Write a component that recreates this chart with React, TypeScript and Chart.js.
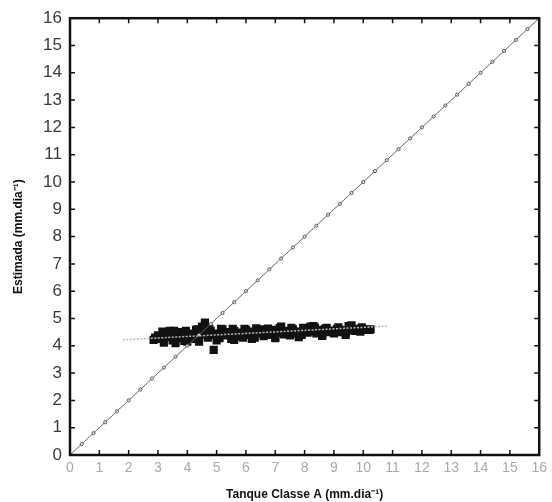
import React, { useEffect, useRef } from "react";
import { Chart, registerables } from "chart.js";

Chart.register(...registerables);

const axisTicks = [0, 1, 2, 3, 4, 5, 6, 7, 8, 9, 10, 11, 12, 13, 14, 15, 16];
const yTickLabels = ["0", "1", "2", "3", "4", "5", "6", "7", "8", "9", "10", "11", "12", "13", "14", "15", "16"];
const xTickLabels = ["0", "1", "2", "3", "4", "5", "6", "7", "8", "9", "10", "11", "12", "13", "14", "15", "16"];

const diagValues = [0, 0.4, 0.8, 1.2, 1.6, 2, 2.4, 2.8, 3.2, 3.6, 4, 4.4, 4.8, 5.2, 5.6, 6, 6.4, 6.8, 7.2, 7.6, 8, 8.4, 8.8, 9.2, 9.6, 10, 10.4, 10.8, 11.2, 11.6, 12, 12.4, 12.8, 13.2, 13.6, 14, 14.4, 14.8, 15.2, 15.6, 16];

const obsX = [2.9, 3.0, 3.1, 3.2, 3.3, 3.4, 3.5, 3.6, 3.7, 3.8, 3.9, 4.0, 4.1, 4.2, 4.3, 4.4, 4.5, 4.6, 4.7, 4.8, 4.9, 5.0, 5.1, 5.2, 5.3, 5.4, 5.5, 5.6, 5.7, 5.8, 5.9, 6.0, 6.1, 6.2, 6.3, 6.4, 6.5, 6.6, 6.7, 6.8, 6.9, 7.0, 7.1, 7.2, 7.3, 7.4, 7.5, 7.6, 7.7, 7.8, 7.9, 8.0, 8.1, 8.2, 8.3, 8.4, 8.5, 8.6, 8.7, 8.8, 8.9, 9.0, 9.1, 9.2, 9.3, 9.4, 9.5, 9.6, 9.7, 9.8, 9.9, 10.0, 10.2, 3.2, 3.6, 4.0, 4.4, 5.0, 5.6, 6.2, 7.0, 7.8, 8.6, 9.4];
const obsY = [4.30, 4.38, 4.25, 4.45, 4.32, 4.55, 4.20, 4.40, 4.28, 4.50, 4.18, 4.35, 4.45, 4.25, 4.58, 4.38, 4.70, 4.85, 4.30, 4.55, 3.85, 4.45, 4.28, 4.60, 4.38, 4.50, 4.25, 4.55, 4.35, 4.48, 4.30, 4.58, 4.40, 4.52, 4.30, 4.45, 4.60, 4.35, 4.50, 4.40, 4.58, 4.32, 4.50, 4.70, 4.42, 4.55, 4.38, 4.60, 4.45, 4.52, 4.40, 4.62, 4.48, 4.70, 4.72, 4.45, 4.58, 4.42, 4.62, 4.50, 4.55, 4.45, 4.62, 4.50, 4.58, 4.48, 4.72, 4.75, 4.55, 4.62, 4.52, 4.60, 4.58, 4.12, 4.10, 4.15, 4.15, 4.20, 4.22, 4.25, 4.28, 4.32, 4.36, 4.40];

const fillX = [2.85, 3.05, 3.25, 3.45, 3.65, 3.85, 4.05, 4.25, 4.45, 4.65, 4.85, 5.05, 5.25, 5.45, 5.65, 5.85, 6.05, 6.25, 6.45, 6.65, 6.85, 7.05, 7.25, 7.45, 7.65, 7.85, 8.05, 8.25, 8.45, 8.65, 8.85, 9.05, 9.25, 9.45, 9.65, 9.85, 10.05, 10.25, 3.15, 3.55, 3.95, 4.35, 4.75, 5.15, 5.55, 5.95, 6.35, 6.75, 7.15, 7.55, 7.95, 8.35, 8.75, 9.15, 9.55, 9.95];
const fillY = [4.22, 4.30, 4.33, 4.36, 4.35, 4.37, 4.38, 4.40, 4.42, 4.44, 4.40, 4.40, 4.42, 4.43, 4.45, 4.44, 4.46, 4.45, 4.47, 4.48, 4.46, 4.48, 4.50, 4.49, 4.50, 4.51, 4.52, 4.53, 4.52, 4.54, 4.55, 4.54, 4.55, 4.57, 4.58, 4.57, 4.58, 4.60, 4.52, 4.55, 4.55, 4.60, 4.62, 4.62, 4.62, 4.62, 4.64, 4.63, 4.65, 4.66, 4.66, 4.67, 4.66, 4.68, 4.68, 4.68];

const regX = [1.8, 10.8];
const regY = [4.22, 4.72];

const FONT = "'Liberation Sans', Arial, sans-serif";

const framePlugin = {
  id: "frame",
  afterDatasetsDraw(chart: any) {
    const { ctx, chartArea: a, scales } = chart;
    ctx.save();
    ctx.strokeStyle = "#111";
    ctx.lineWidth = 1.5;
    const len = 5;
    ctx.beginPath();
    axisTicks.forEach((v) => {
      const px = scales.x.getPixelForValue(v);
      ctx.moveTo(px, a.bottom);
      ctx.lineTo(px, a.bottom - len);
      ctx.moveTo(px, a.top);
      ctx.lineTo(px, a.top + len);
      const py = scales.y.getPixelForValue(v);
      ctx.moveTo(a.left, py);
      ctx.lineTo(a.left + len, py);
      ctx.moveTo(a.right, py);
      ctx.lineTo(a.right - len, py);
    });
    ctx.stroke();
    ctx.lineWidth = 2.5;
    ctx.strokeRect(a.left, a.top, a.right - a.left, a.bottom - a.top);
    ctx.restore();
  },
};

export default function App() {
  const ref = useRef<HTMLCanvasElement>(null);
  useEffect(() => {
    document.body.style.margin = "0";
    const chart = new Chart(ref.current!, {
      type: "scatter",
      data: {
        datasets: [
          {
            label: "Observado",
            order: 2,
            data: obsX.map((x, i) => ({ x, y: obsY[i] })).concat(fillX.map((x, i) => ({ x, y: fillY[i] }))),
            pointStyle: "rect",
            pointRadius: 5.8,
            backgroundColor: "#111",
            borderColor: "#111",
            borderWidth: 0,
            showLine: false,
          },
          {
            label: "Regressão",
            order: 0,
            data: regX.map((x, i) => ({ x, y: regY[i] })),
            showLine: true,
            borderColor: "#b8b8b8",
            borderWidth: 1.5,
            borderDash: [2, 1.5],
            pointRadius: 0,
          },
          {
            label: "1:1",
            order: 1,
            data: diagValues.map((v) => ({ x: v, y: v })),
            showLine: true,
            borderColor: "#666",
            borderWidth: 1,
            pointStyle: "circle",
            pointRadius: 1.6,
            pointBorderColor: "#444",
            pointBackgroundColor: "#ddd",
            pointBorderWidth: 0.8,
          },
        ],
      },
      options: {
        animation: false,
        responsive: false,
        layout: { padding: { top: 17, right: 6, left: 0, bottom: 0 } },
        plugins: { legend: { display: false }, tooltip: { enabled: false } },
        scales: {
          x: {
            type: "linear",
            min: 0,
            max: 16,
            afterBuildTicks: (s: any) => {
              s.ticks = axisTicks.map((v) => ({ value: v }));
            },
            afterFit: (s: any) => {
              s.height = 47;
            },
            grid: { display: false, drawTicks: false },
            border: { display: false },
            ticks: {
              autoSkip: false,
              maxRotation: 0,
              padding: 5,
              color: "#a8a8a8",
              font: { family: FONT, size: 14 },
              callback: (v: any) => xTickLabels[axisTicks.indexOf(Number(v))] ?? "",
            },
            title: {
              display: true,
              text: "Tanque Classe A (mm.dia⁻¹)",
              color: "#111",
              font: { family: FONT, size: 12, weight: "bold" },
              padding: { top: 8, bottom: 0 },
            },
          },
          y: {
            type: "linear",
            min: 0,
            max: 16,
            afterBuildTicks: (s: any) => {
              s.ticks = axisTicks.map((v) => ({ value: v }));
            },
            afterFit: (s: any) => {
              s.width = 70;
            },
            grid: { display: false, drawTicks: false },
            border: { display: false },
            ticks: {
              autoSkip: false,
              padding: 8,
              color: "#3a3a3a",
              font: { family: FONT, size: 17 },
              callback: (v: any) => yTickLabels[axisTicks.indexOf(Number(v))] ?? "",
            },
            title: {
              display: true,
              text: "Estimada (mm.dia⁻¹)",
              color: "#111",
              font: { family: FONT, size: 12, weight: "bold" },
              padding: { top: 11, bottom: 4 },
            },
          },
        },
      },
      plugins: [framePlugin],
    });
    return () => chart.destroy();
  }, []);
  return (
    <div style={{ width: 552, height: 502, background: "#fff" }}>
      <canvas ref={ref} width={552} height={502} />
    </div>
  );
}
